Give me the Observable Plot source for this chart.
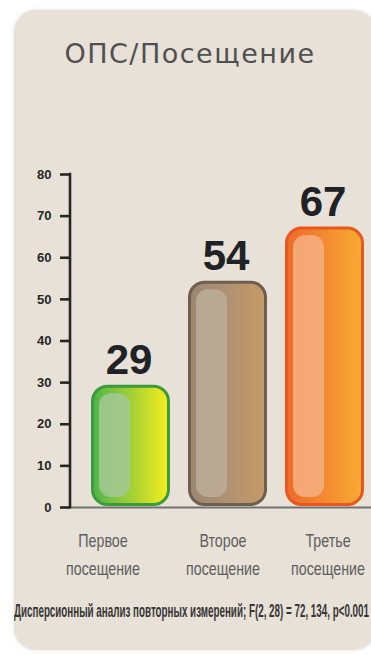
<!DOCTYPE html>
<html>
<head>
<meta charset="utf-8">
<script src="https://cdn.jsdelivr.net/npm/d3@7"></script>
<script src="https://cdn.jsdelivr.net/npm/@observablehq/plot@0.6"></script>
<style>
  html, body { margin: 0; padding: 0; background: #ffffff; width: 371px; height: 655px; overflow: hidden; }
  #card { position: absolute; left: 14px; top: 10px; width: 362px; height: 640px; border-radius: 22px;
          background: #e7e1d7; box-shadow: 0 0 4px rgba(0,0,0,0.12); }
  #title { position: absolute; left: 0; top: 37px; width: 380px; text-align: center;
           font-family: "DejaVu Sans", sans-serif; font-size: 27px; letter-spacing: 1.5px; color: #505050; line-height: 34px; }
  #chart { position: absolute; left: 0; top: 0; }
  #caption { position: absolute; left: 14px; top: 600px; white-space: nowrap; transform-origin: 0 50%;
             font-family: "Liberation Sans", Arial, sans-serif; font-weight: bold; font-size: 19px; line-height: 22px; color: #363636; }
</style>
</head>
<body>
<div id="card"></div>
<div id="title"></div>
<div id="chart"></div>
<div id="caption"></div>
<script>
const title = "ОПС/Посещение";
const categories = ["Первое посещение", "Второе посещение", "Третье посещение"];
const labels = ["Первое\nпосещение", "Второе\nпосещение", "Третье\nпосещение"];
const values = [29, 54, 67];
const yTicks = [0, 10, 20, 30, 40, 50, 60, 70, 80];
const caption = "Дисперсионный анализ повторных измерений; F(2, 28) = 72, 134, p<0.001";

// styling (not data)
const bodyStops = [["#4cb548", "#a2cf36", "#f4ee1c"], ["#9a8671", "#b09173", "#c69b66"], ["#ee6a2a", "#f38a30", "#f8aa32"]];
const borders = ["#3b9b3d", "#6d5f50", "#e8581e"];
const highlights = ["#a4c897", "#bcae99", "#f6b083"];
const labelShift = [-28, -5, 3];

const rows = categories.map((c, i) => ({cat: c, label: labels[i], value: values[i], i}));

document.getElementById("title").textContent = title;

const W = 371, H = 590;
const plot = Plot.plot({
  width: W,
  height: H,
  marginTop: 174,
  marginBottom: H - 507,
  marginLeft: 70,
  marginRight: 0,
  style: {background: "transparent", fontFamily: "'Liberation Sans', Arial, sans-serif", overflow: "visible"},
  x: {domain: categories, range: [71, 384], paddingInner: 0.19, paddingOuter: 0.2, axis: null},
  y: {domain: [0, 80], axis: null},
  color: {type: "identity"},
  marks: [
    Plot.ruleY([0], {stroke: "#727272", strokeWidth: 2}),
    Plot.barY(rows, {x: "cat", y: "value", fill: d => `url(#body${d.i})`, stroke: d => borders[d.i],
                     strokeWidth: 3, rx: 15, insetBottom: 2.5, insetLeft: 1.5, insetRight: 1.5}),
    Plot.barY(rows, {x: "cat", y: "value", fill: d => highlights[d.i], fillOpacity: 0.85,
                     rx: 12, insetLeft: 8, insetRight: 40, insetTop: 7, insetBottom: 10}),
    Plot.text(rows, {x: "cat", y: "value", text: d => String(d.value), lineAnchor: "bottom", dy: -13, dx: -2,
                     fontSize: 42, fontWeight: "bold", fill: "#202226"}),
    ...rows.map((r, i) => Plot.text([r], {x: "cat", text: "label", frameAnchor: "bottom", lineAnchor: "top",
                     dy: 20, dx: labelShift[i], fontSize: 19, lineHeight: 1.45, fill: "#5e5e5e"})),
    Plot.axisY(yTicks, {anchor: "left", tickSize: 10, tickPadding: 9, fontSize: 13, fontWeight: "bold",
                        strokeWidth: 2.6, color: "#262626", label: null, tickFormat: d => String(d)}),
    (index, scales, values, dimensions) => {
      const g = d3.create("svg:g");
      const x0 = dimensions.marginLeft;
      g.append("line").attr("x1", x0).attr("x2", x0)
        .attr("y1", scales.y(yTicks[yTicks.length - 1]) - 1.3).attr("y2", scales.y(0) + 1.3)
        .attr("stroke", "#262626").attr("stroke-width", 2.6);
      return g.node();
    }
  ]
});

// gradients
const svg = d3.select(plot.tagName.toLowerCase() === "svg" ? plot : plot.querySelector("svg"));
const defs = svg.insert("defs", ":first-child");
bodyStops.forEach((stops, i) => {
  const lg = defs.append("linearGradient").attr("id", `body${i}`).attr("x1", "0").attr("x2", "1").attr("y1", "0").attr("y2", "0");
  stops.forEach((c, k) => lg.append("stop").attr("offset", k / (stops.length - 1)).attr("stop-color", c));
});

// condensed category labels
svg.selectAll('g[font-size="19"] text').each(function() {
  const t = this.getAttribute("transform") || "";
  this.setAttribute("transform", t + " scale(0.75,1)");
});

document.getElementById("chart").appendChild(plot);

// caption, condensed to fit inside the page
const cap = document.getElementById("caption");
cap.textContent = caption;
const ctx = document.createElement("canvas").getContext("2d");
ctx.font = "bold 19px 'Liberation Sans', Arial, sans-serif";
const wFull = ctx.measureText(caption).width;
cap.style.transform = `scaleX(${(369 - 14) / wFull})`;
</script>
</body>
</html>
